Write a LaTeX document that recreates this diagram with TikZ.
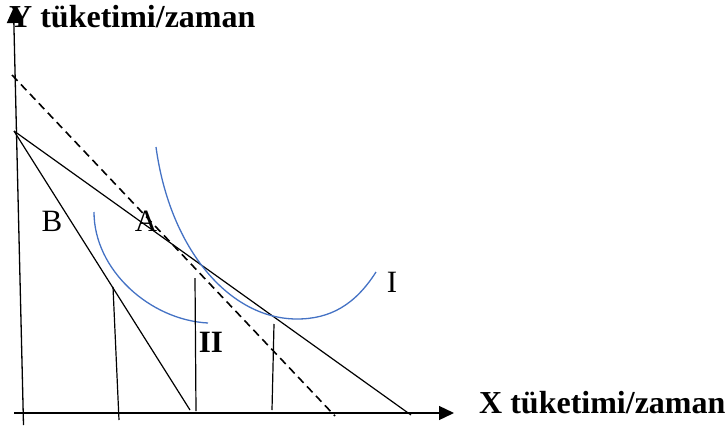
\documentclass[tikz,border=0pt]{standalone}
\usepackage{fontspec}
\setmainfont{Liberation Serif}
\usetikzlibrary{arrows.meta}
\definecolor{curveblue}{RGB}{68,114,196}
\tikzset{
  axisline/.style={line width=1.3pt,-{Triangle[length=15pt,width=14pt]}},
  budget/.style={line width=1.2pt},
  dashbudget/.style={line width=1.6pt,dash pattern=on 8pt off 5pt},
  indiff/.style={curveblue,line width=1.3pt},
  guide/.style={line width=1.2pt},
  lbl/.style={inner sep=0pt,font=\fontsize{31}{31}\selectfont},
  axlbl/.style={inner sep=0pt,anchor=base west,font=\fontsize{32}{32}\selectfont\bfseries}
}
\begin{document}
\begin{tikzpicture}[x=1pt,y=-1pt]
\useasboundingbox (0,0) rectangle (726,426);
% axes
\coordinate (ybot) at (23.5,425);
\coordinate (ytop) at (13.5,8);
\coordinate (xleft) at (14,413);
\coordinate (xright) at (454,413);
\draw[axisline] (ybot) -- (ytop);
\draw[axisline] (xleft) -- (xright);
\node[axlbl] (ylab) at (9,27) {Y tüketimi/zaman};
\node[axlbl] (xlab) at (479,413) {X tüketimi/zaman};
% budget lines
\coordinate (y0) at (14,131);
\coordinate (x1) at (411,415);
\coordinate (xB) at (190,410);
\coordinate (d0) at (12,75);
\coordinate (d1) at (335,416);
\draw[budget] (y0) -- (x1);
\draw[budget] (y0) -- (xB);
\draw[dashbudget] (d0) -- (d1);
% indifference curves
\coordinate (i1s) at (156,147);
\coordinate (i1m) at (297,319);
\coordinate (i1e) at (376,272);
\draw[indiff] (i1s) .. controls (170,250) and (230,319) .. (i1m)
  .. controls (330,319) and (355,305) .. (i1e);
\coordinate (i2s) at (94,212);
\coordinate (i2e) at (208,323);
\draw[indiff] (i2s) .. controls (94,270) and (150,320) .. (i2e);
% guides
\coordinate (g1t) at (113,287); \coordinate (g1b) at (119,420);
\coordinate (g2t) at (195,278); \coordinate (g2b) at (196,411);
\coordinate (g3t) at (274,324); \coordinate (g3b) at (272,410);
\draw[guide] (g1t) -- (g1b);
\draw[guide] (g2t) -- (g2b);
\draw[guide] (g3t) -- (g3b);
% labels
\node[lbl] (B) at (52,221) {B};
\node[lbl] (A) at (146,221) {A};
\node[lbl] (I) at (392,282) {I};
\node[lbl,font=\fontsize{31}{31}\selectfont\bfseries] (II) at (211,342) {II};
\end{tikzpicture}
\end{document}
